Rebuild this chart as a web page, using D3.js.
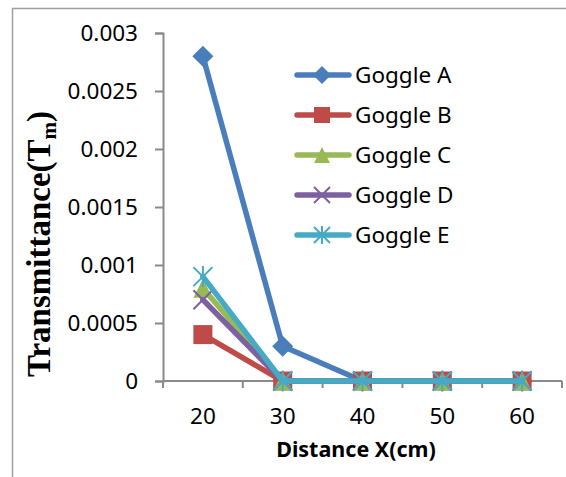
<!DOCTYPE html>
<html>
<head>
<meta charset="utf-8">
<script src="https://cdn.jsdelivr.net/npm/d3@7"></script>
<style>
  html, body { margin: 0; padding: 0; background: #fff; }
  svg { display: block; }
</style>
</head>
<body>
<svg id="chart" width="566" height="477"></svg>
<script>
// Transmittance of five goggles against distance
const distances = [20, 30, 40, 50, 60];
const goggleA = [0.0028, 0.0003, 0, 0, 0];
const goggleB = [0.0004, 0, 0, 0, 0];
const goggleC = [0.0008, 0, 0, 0, 0];
const goggleD = [0.0007, 0, 0, 0, 0];
const goggleE = [0.0009, 0, 0, 0, 0];
const seriesNames = ["Goggle A", "Goggle B", "Goggle C", "Goggle D", "Goggle E"];
const yTickValues = [0, 0.0005, 0.001, 0.0015, 0.002, 0.0025, 0.003];
const yTickLabels = ["0", "0.0005", "0.001", "0.0015", "0.002", "0.0025", "0.003"];

const seriesValues = [goggleA, goggleB, goggleC, goggleD, goggleE];
const colors = ["#4A7EBB", "#BE4B48", "#98B954", "#7D60A0", "#46AAC5"];
const shapes = ["diamond", "square", "triangle", "cross", "star"];

const sansFont = "'Noto Sans', 'Open Sans', sans-serif";
const svg = d3.select("#chart");

// outer frame
svg.append("rect")
  .attr("x", 12.5).attr("y", 8.5)
  .attr("width", 600).attr("height", 500)
  .attr("fill", "none").attr("stroke", "#a0a0a0").attr("stroke-width", 1.5);

const x = d3.scaleBand().domain(distances).range([163, 562]).paddingInner(0).paddingOuter(0);
const y = d3.scaleLinear().domain([0, 0.003]).range([381, 33]);
const cx = d => x(d) + x.bandwidth() / 2;

const axisColor = "#8a8a8a";

// y axis
const yAxis = svg.append("g")
  .attr("transform", "translate(163,0)")
  .call(d3.axisLeft(y).tickValues(yTickValues).tickSize(8).tickPadding(17)
    .tickFormat((d, i) => yTickLabels[i]));
yAxis.select(".domain").attr("stroke", axisColor).attr("stroke-width", 2);
yAxis.selectAll(".tick line").attr("stroke", axisColor).attr("stroke-width", 2);
yAxis.selectAll(".tick text")
  .attr("fill", "#000").style("font-family", sansFont).style("font-size", "22.5px");

// x axis: tick marks sit on category boundaries, labels at category centres
const xAxis = svg.append("g");
const boundaries = distances.map(d => x(d)).concat([x.range()[1]]);
xAxis.append("line")
  .attr("x1", x.range()[0]).attr("x2", x.range()[1])
  .attr("y1", y(0)).attr("y2", y(0))
  .attr("stroke", axisColor).attr("stroke-width", 2);
xAxis.selectAll("line.tick").data(boundaries).join("line")
  .attr("class", "tick")
  .attr("x1", d => d).attr("x2", d => d)
  .attr("y1", y(0)).attr("y2", y(0) + 7)
  .attr("stroke", axisColor).attr("stroke-width", 2);
xAxis.selectAll("text").data(distances).join("text")
  .attr("x", d => cx(d)).attr("y", 424)
  .attr("text-anchor", "middle")
  .style("font-family", sansFont).style("font-size", "22.5px")
  .text(d => d);

// axis titles
svg.append("text")
  .attr("x", 356).attr("y", 457)
  .attr("text-anchor", "middle")
  .style("font-family", sansFont).style("font-size", "21.5px").style("font-weight", "bold")
  .text("Distance X(cm)");

const yTitle = svg.append("text")
  .attr("transform", "translate(50,244) rotate(-90)")
  .attr("text-anchor", "middle")
  .style("font-family", "'Liberation Serif', 'Times New Roman', serif")
  .style("font-size", "33px").style("font-weight", "bold");
yTitle.append("tspan").text("Transmittance(T");
yTitle.append("tspan").attr("dy", 6).style("font-size", "21px").text("m");
yTitle.append("tspan").attr("dy", -6).text(")");

// marker drawing
function drawMarker(g, shape, color, px, py, s) {
  const h = s / 2;
  if (shape === "diamond") {
    g.append("path").attr("d", `M${px},${py - h - 1}L${px + h + 1},${py}L${px},${py + h + 1}L${px - h - 1},${py}Z`)
      .attr("fill", color);
  } else if (shape === "square") {
    g.append("rect").attr("x", px - h).attr("y", py - h).attr("width", s).attr("height", s)
      .attr("fill", color);
  } else if (shape === "triangle") {
    g.append("path").attr("d", `M${px},${py - h}L${px + h},${py + h}L${px - h},${py + h}Z`)
      .attr("fill", color);
  } else if (shape === "cross") {
    g.append("path").attr("d", `M${px - h},${py - h}L${px + h},${py + h}M${px - h},${py + h}L${px + h},${py - h}`)
      .attr("stroke", color).attr("stroke-width", 2).attr("fill", "none");
  } else if (shape === "star") {
    g.append("path").attr("d", `M${px - h},${py - h}L${px + h},${py + h}M${px - h},${py + h}L${px + h},${py - h}M${px},${py - h - 1}L${px},${py + h + 1}`)
      .attr("stroke", color).attr("stroke-width", 2).attr("fill", "none");
  }
}

// series: each line followed by its markers, in order
const line = d3.line().x(d => cx(d[0])).y(d => y(d[1]));
seriesValues.forEach((vals, i) => {
  const g = svg.append("g");
  const pts = distances.map((d, j) => [d, vals[j]]);
  g.append("path").datum(pts)
    .attr("d", line)
    .attr("fill", "none").attr("stroke", colors[i]).attr("stroke-width", 5.5)
    .attr("stroke-linejoin", "round").attr("stroke-linecap", "round");
  pts.forEach(p => drawMarker(g, shapes[i], colors[i], cx(p[0]), y(p[1]), 19));
});

// legend
const legend = svg.append("g");
seriesNames.forEach((name, i) => {
  const ly = 75 + i * 40;
  const g = legend.append("g");
  g.append("line").attr("x1", 297).attr("x2", 349).attr("y1", ly).attr("y2", ly)
    .attr("stroke", colors[i]).attr("stroke-width", 5.5).attr("stroke-linecap", "round");
  drawMarker(g, shapes[i], colors[i], 322, ly, 16);
  g.append("text").attr("x", 355).attr("y", ly + 8)
    .style("font-family", sansFont).style("font-size", "22.5px")
    .text(name);
});
</script>
</body>
</html>
